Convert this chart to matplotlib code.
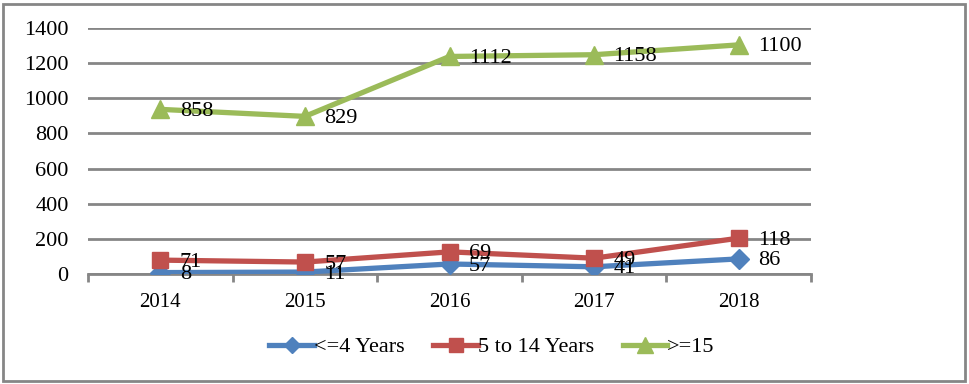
import numpy as np
import matplotlib
matplotlib.use("Agg")
import matplotlib.pyplot as plt
from matplotlib.patches import Rectangle

# datos (grafica de lineas apiladas)
years = ["2014", "2015", "2016", "2017", "2018"]
under4 = [8, 11, 57, 41, 86]
from5to14 = [71, 57, 69, 49, 118]
over15 = [858, 829, 1112, 1158, 1100]
names = ["<=4 Years", "5 to 14 Years", ">=15"]
colors = ["#4F81BD", "#C0504D", "#9BBB59"]
markers = ["D", "s", "^"]
msizes = [10, 12, 13]

plt.rcParams["font.family"] = ["Liberation Serif", "DejaVu Serif"]
grid_c = "#868686"

fig = plt.figure(figsize=(9.69, 3.84), dpi=100)
ax = fig.add_axes([88 / 969, 1 - 274 / 384, (811 - 88) / 969, (274 - 28) / 384])

x = np.arange(len(years))
series = [under4, from5to14, over15]
stacked = np.cumsum(np.array(series), axis=0)

for vals, top, name, c, m, ms in zip(series, stacked, names, colors, markers, msizes):
    ax.plot(x, top, color=c, lw=3.8, marker=m, markersize=ms, label=name, zorder=3)
    for xi, yi, v in zip(x, top, vals):
        ax.annotate(str(v), (xi, yi), xytext=(14, -1.5), textcoords="offset points",
                    va="center", ha="left", fontsize=16, zorder=4)

ax.set_xlim(-0.5, 4.5)
ax.set_ylim(0, 1400)
ax.set_yticks(range(0, 1401, 200))
ax.yaxis.grid(True, color=grid_c, lw=2)
ax.set_axisbelow(True)
ax.set_xticks(x)
ax.set_xticklabels(years)
ax.set_xticks(np.arange(-0.5, 5, 1), minor=True)
ax.tick_params(axis="x", which="major", length=0, pad=14, labelsize=15)
ax.tick_params(axis="x", which="minor", length=6, width=2, color=grid_c)
ax.tick_params(axis="y", length=0, pad=14, labelsize=16)
for s in ["top", "right", "left"]:
    ax.spines[s].set_visible(False)
ax.spines["bottom"].set_color(grid_c)
ax.spines["bottom"].set_linewidth(2)

ax.legend(loc="center", bbox_to_anchor=(492 / 969, 1 - 347 / 384),
          bbox_transform=fig.transFigure, ncol=3, frameon=False, fontsize=16,
          handlelength=2.0, handletextpad=0.0, columnspacing=1.3, markerscale=0.85)

fig.patches.append(Rectangle((3 / 969, 3 / 384), 962 / 969, 377 / 384, transform=fig.transFigure,
                             fill=False, edgecolor=grid_c, lw=2))

fig.savefig("out.png", dpi=100)
